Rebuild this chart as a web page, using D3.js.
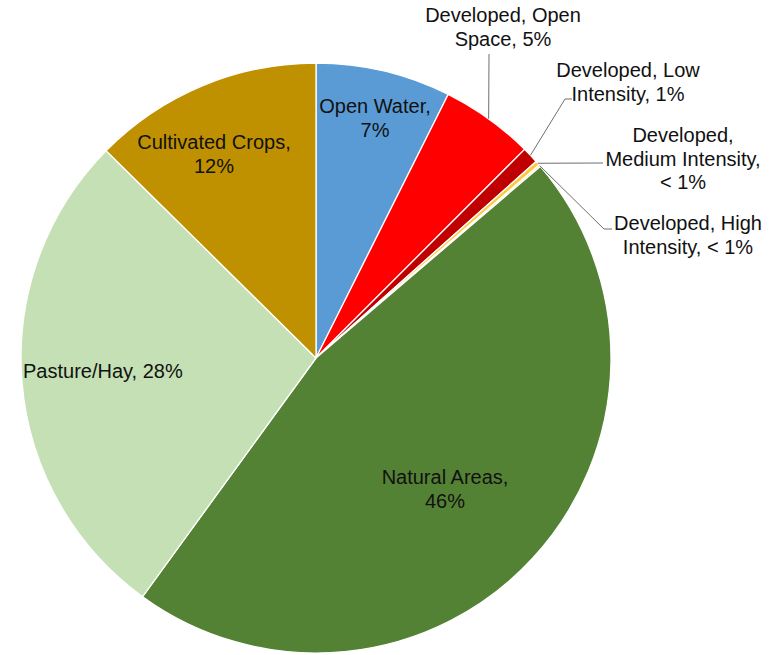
<!DOCTYPE html>
<html>
<head>
<meta charset="utf-8">
<script src="https://cdn.jsdelivr.net/npm/d3@7"></script>
<style>
  html, body { margin: 0; padding: 0; background: #ffffff; }
  svg { display: block; }
  text { font-family: "Liberation Sans", Arial, sans-serif; font-size: 20px; fill: #111111; }
</style>
</head>
<body>
<svg id="chart" width="778" height="655"></svg>
<script>
// ---- data ----
const categories = [
  "Open Water",
  "Developed, Open Space",
  "Developed, Low Intensity",
  "Developed, Medium Intensity",
  "Developed, High Intensity",
  "Natural Areas",
  "Pasture/Hay",
  "Cultivated Crops"
];
const values = [7.4, 5.1, 0.9, 0.25, 0.1, 46.25, 27.4, 12.6];
const pctLabels = ["7%", "5%", "1%", "< 1%", "< 1%", "46%", "28%", "12%"];
const colors = ["#5B9BD5", "#FF0000", "#C00000", "#FFC83D", "#F8E3A0", "#548235", "#C5E0B4", "#BF9000"];

// ---- label layout (lines of text, anchor, position) ----
const labelLines = [
  ["Open Water,", "7%"],
  ["Developed, Open", "Space, 5%"],
  ["Developed, Low", "Intensity, 1%"],
  ["Developed,", "Medium Intensity,", "< 1%"],
  ["Developed, High", "Intensity, < 1%"],
  ["Natural Areas,", "46%"],
  ["Pasture/Hay, 28%"],
  ["Cultivated Crops,", "12%"]
];
const labelLayout = [
  { x: 375, y: 113, anchor: "middle", leader: null },
  { x: 503, y: 22, anchor: "middle", leader: [[489, 54]] },
  { x: 628, y: 77, anchor: "middle", leader: [[572, 99], [565, 99]] },
  { x: 683, y: 142, anchor: "middle", leader: [[603, 163]] },
  { x: 688, y: 230, anchor: "middle", leader: [[612, 229], [604, 229]] },
  { x: 445, y: 484, anchor: "middle", leader: null },
  { x: 23, y: 378, anchor: "start", leader: null },
  { x: 214, y: 149, anchor: "middle", leader: null }
];
const lineHeight = 23.5;

// ---- drawing ----
const svg = d3.select("#chart");
const cx = 316, cy = 358, r = 295;
const g = svg.append("g").attr("transform", `translate(${cx},${cy})`);

const pie = d3.pie().sort(null).value(d => d.value);
const data = categories.map((c, i) => ({ name: c, value: values[i], color: colors[i], i }));
const arcs = pie(data);
const arc = d3.arc().innerRadius(0).outerRadius(r);

g.selectAll("path.slice")
  .data(arcs)
  .enter().append("path")
  .attr("class", "slice")
  .attr("d", arc)
  .attr("fill", d => d.data.color)
  .attr("stroke", "#ffffff")
  .attr("stroke-width", 1.3)
  .attr("stroke-linejoin", "round");

// leader lines
const edgeArc = d3.arc().innerRadius(r).outerRadius(r);
arcs.forEach((a, i) => {
  const L = labelLayout[i];
  if (!L.leader) return;
  const [ex, ey] = edgeArc.centroid(a);
  const pts = L.leader.map(p => [p[0] - cx, p[1] - cy]);
  pts.push([ex, ey]);
  g.append("path")
    .attr("d", d3.line()(pts))
    .attr("fill", "none")
    .attr("stroke", "#6f6f6f")
    .attr("stroke-width", 1);
});

// labels
arcs.forEach((a, i) => {
  const L = labelLayout[i];
  const t = svg.append("text")
    .attr("text-anchor", L.anchor);
  labelLines[i].forEach((line, k) => {
    t.append("tspan")
      .attr("x", L.x)
      .attr("y", L.y + k * lineHeight)
      .text(line);
  });
});
</script>
</body>
</html>
